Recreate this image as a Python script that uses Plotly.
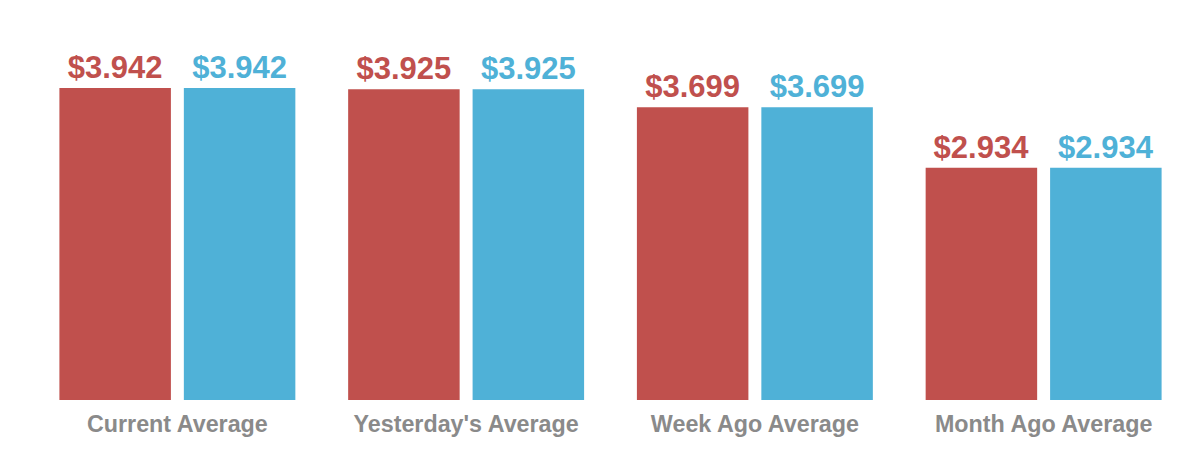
import plotly.graph_objects as go

categories = ["Current Average", "Yesterday's Average", "Week Ago Average", "Month Ago Average"]
series_a = [3.942, 3.925, 3.699, 2.934]
series_b = [3.942, 3.925, 3.699, 2.934]
series_names = ["Regular A", "Regular B"]

red = "#C0504D"
blue = "#4FB1D7"

fig = go.Figure()
for name, vals, col in [(series_names[0], series_a, red), (series_names[1], series_b, blue)]:
    fig.add_trace(go.Bar(
        x=categories, y=vals, name=name, marker=dict(color=col, line=dict(width=0)),
        text=[f"${v:.3f}" for v in vals], textposition="outside",
        texttemplate="<b>%{text}</b>",
        textfont=dict(family="Liberation Sans, Arial", size=31, color=col),
        cliponaxis=False,
    ))

fig.update_layout(
    width=1184, height=453,
    margin=dict(l=25, r=4, t=12, b=61),
    barmode="group", bargap=0.138, bargroupgap=0.104,
    plot_bgcolor="white", paper_bgcolor="white",
    showlegend=False,
    uniformtext=dict(mode=False),
    xaxis=dict(showgrid=False, showline=False, ticks="", zeroline=False,
               tickvals=categories, ticktext=[f"<b>{c}</b>" for c in categories],
               ticklabelstandoff=8,
               tickfont=dict(family="Liberation Sans, Arial", size=23.3, color="#8A8A8A")),
    yaxis=dict(range=[0, 4.80], visible=False),
)
fig.write_html("out.html")
